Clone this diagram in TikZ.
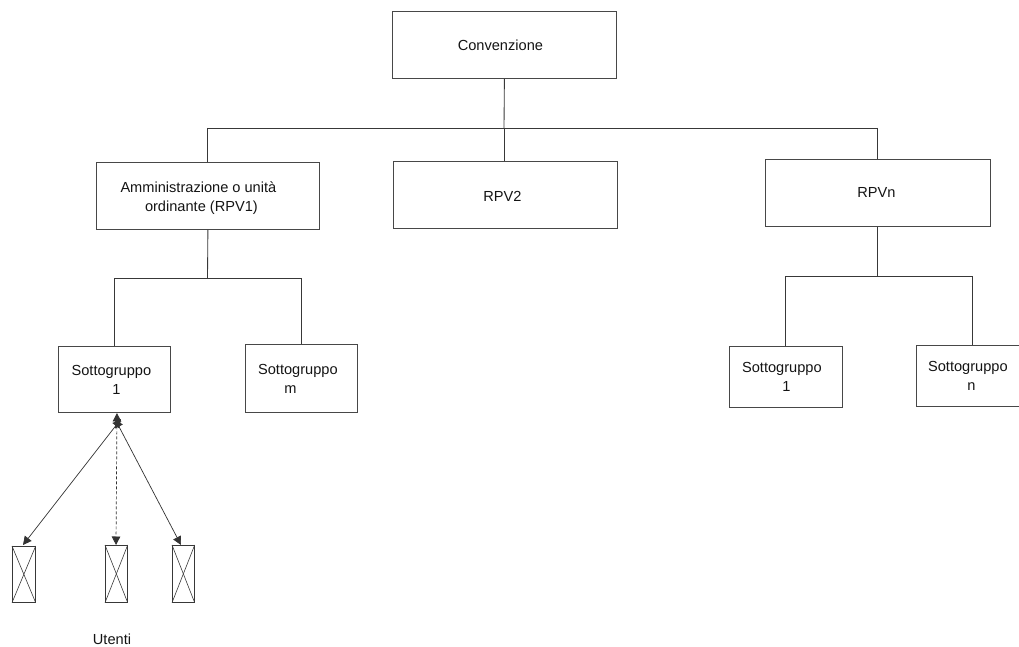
\documentclass[tikz,border=0pt]{standalone}
\usepackage{fontspec}
\setmainfont{Liberation Sans}
\usetikzlibrary{arrows.meta}
\newcommand{\shiftln}[1]{\hspace*{#1pt}}
\newcommand{\dropln}[1]{\raisebox{-2pt}[\height][\depth]{#1}}
\tikzset{
 boxn/.style={draw=black!72,line width=.8pt,align=center,text=black!92,font=\fontsize{14.6}{19}\selectfont,inner sep=0pt,anchor=north west},
 conn/.style={draw=black!78,line width=.85pt},
 tipb/.tip={Triangle[length=8.5pt,width=8.5pt]},
 arr/.style={draw=black!80,line width=.7pt,tipb-tipb},
 userb/.style={draw=black!78,line width=.7pt,minimum width=22pt,minimum height=57pt,inner sep=0pt,anchor=north west},
 txt/.style={text=black!92,font=\fontsize{14.6}{19}\selectfont,inner sep=0pt},
}
\begin{document}
\begin{tikzpicture}[x=1pt,y=-1pt]
\useasboundingbox (0,0) rectangle (1019,647);
\node[boxn,minimum width=224pt,minimum height=67pt] (conv) at (392,11) {\shiftln{-8}Convenzione};
\node[boxn,minimum width=223pt,minimum height=67pt] (amm) at (96,162) {\shiftln{-19}\dropln{Amministrazione o unità}\\\shiftln{-13}\dropln{ordinante (RPV1)}};
\node[boxn,minimum width=224pt,minimum height=67pt] (rpv2) at (393,161) {\shiftln{-6}\dropln{RPV2}};
\node[boxn,minimum width=225pt,minimum height=67pt] (rpvn) at (765,159) {\shiftln{-3}RPVn};
\node[boxn,minimum width=112pt,minimum height=66pt] (s1) at (58,346) {\shiftln{-6}Sottogruppo\\\shiftln{4}1};
\node[boxn,minimum width=112pt,minimum height=68pt] (sm) at (245,344) {\shiftln{-7}Sottogruppo\\\shiftln{-22}m};
\node[boxn,minimum width=113pt,minimum height=61pt] (r1) at (729,346) {\shiftln{-8}Sottogruppo\\\shiftln{1}1};
\node[boxn,minimum width=103pt,minimum height=61pt] (rn) at (916,345) {Sottogruppo\\\shiftln{7}n};
\node[userb,minimum width=23pt,minimum height=56pt] (u1) at (12,546) {};
\node[userb] (u2) at (105,545) {};
\node[userb] (u3) at (172,545) {};
\foreach \u in {u1,u2,u3}{
 \draw[conn,line width=.6pt] (\u.north west) -- (\u.south east);
 \draw[conn,line width=.6pt] (\u.north east) -- (\u.south west);
}
\node[txt] (ut) at (112,639.5) {Utenti};
\coordinate (j0) at (504,128);
\coordinate (jl) at (207.5,278);
\coordinate (jr) at (878,276);
\coordinate (rnt) at (972,345);
\coordinate (hubl) at (121,419);
\coordinate (hubm) at (117,413);
\coordinate (hubr) at (115,419);
\coordinate (tipl) at (23,545);
\coordinate (tipm) at (116,545);
\coordinate (tipr) at (181,545);
\draw[conn] (conv.south) -- (j0);
\draw[conn] (amm.north |- j0) -- (rpvn.north |- j0);
\draw[conn] (amm.north |- j0) -- (amm.north);
\draw[conn] (j0) -- (j0 |- rpv2.north);
\draw[conn] (rpvn.north |- j0) -- (rpvn.north);
\draw[conn] (amm.south) -- (jl);
\draw[conn] (s1.north |- jl) -- (sm.north |- jl);
\draw[conn] (s1.north |- jl) -- (s1.north);
\draw[conn] (sm.north |- jl) -- (sm.north);
\draw[conn] (rpvn.south) -- (rpvn.south |- jr);
\draw[conn] (r1.north |- jr) -- (rnt |- jr);
\draw[conn] (r1.north |- jr) -- (r1.north);
\draw[conn] (rnt |- jr) -- (rnt);
\draw[arr] (hubl) -- (tipl);
\draw[arr,densely dashed] (hubm) -- (tipm);
\draw[arr] (hubr) -- (tipr);
\end{tikzpicture}
\end{document}
